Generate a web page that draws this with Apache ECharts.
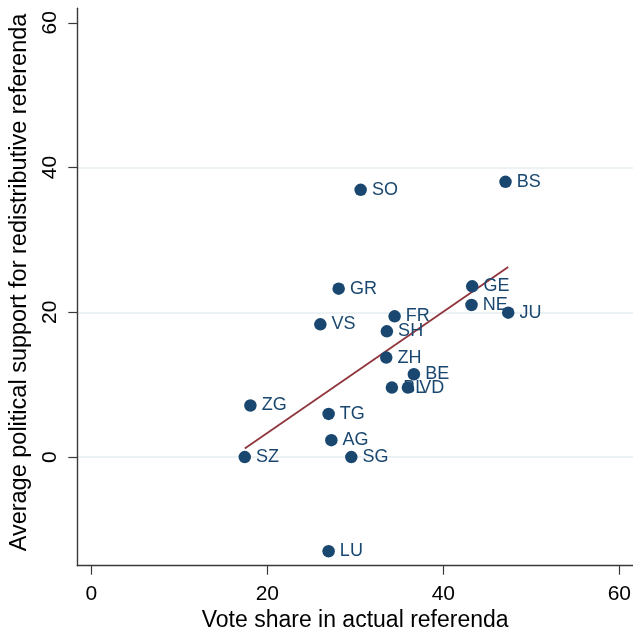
<!DOCTYPE html>
<html>
<head>
<meta charset="utf-8">
<script src="https://cdn.jsdelivr.net/npm/echarts@6/dist/echarts.min.js"></script>
<style>
html,body{margin:0;padding:0;background:#fff;}
#chart{width:633px;height:631px;}
</style>
</head>
<body>
<div id="chart"></div>
<script>
// Cantons (labels)
var cantons = ['BS','SO','GE','GR','NE','JU','FR','VS','SH','ZH','BE','BL','VD','ZG','TG','AG','SZ','SG','LU'];
// Vote share in actual referenda (x)
var voteShare = [47.06,30.60,43.28,28.10,43.20,47.37,34.46,26.02,33.58,33.51,36.65,34.15,35.97,18.07,26.96,27.27,17.43,29.54,26.96];
// Average political support for redistributive referenda (y)
var support = [38.03,36.92,23.59,23.27,21.01,19.96,19.45,18.34,17.38,13.75,11.45,9.61,9.61,7.13,5.97,2.34,0.00,0.00,-13.0];
// Fitted line end points
var fitX = [17.43, 47.37];
var fitY = [1.2, 26.25];
// Tick labels
var xTicks = [0,20,40,60];
var yTicks = [0,20,40,60];
var yGrid = [0,20,40];

var FONT = '"Liberation Sans", Arial, Helvetica, sans-serif';
var NAVY = '#1a476f';

var scatterData = cantons.map(function(c,i){ return {name:c, value:[voteShare[i], support[i]]}; });
var fitData = fitX.map(function(x,i){ return [x, fitY[i]]; });

var chart = echarts.init(document.getElementById('chart'), null, {renderer:'canvas'});
chart.setOption({
  backgroundColor:'#ffffff',
  animation:false,
  grid:{left:77.3, right:0, top:8.3, bottom:65.3, containLabel:false, outerBoundsMode:'none'},
  xAxis:{
    type:'value', min:-1.6, max:61.55,
    name:'Vote share in actual referenda', nameLocation:'middle', nameGap:43,
    nameTextStyle:{fontFamily:FONT, fontSize:23, color:'#000'},
    axisLine:{show:true, onZero:false, lineStyle:{color:'#3a3a3a', width:1.4}},
    axisTick:{show:true, length:9, customValues:xTicks, lineStyle:{color:'#3a3a3a', width:1.2}},
    axisLabel:{customValues:xTicks, margin:18, fontFamily:FONT, fontSize:21, color:'#000'},
    splitLine:{show:false}
  },
  yAxis:{
    type:'value', min:-15, max:62,
    name:'Average political support for redistributive referenda', nameLocation:'middle', nameGap:36,
    nameTextStyle:{fontFamily:FONT, fontSize:23.5, color:'#000', padding:[0,0,0,9]},
    axisLine:{show:true, onZero:false, lineStyle:{color:'#3a3a3a', width:1.4}},
    axisTick:{show:true, length:9, customValues:yTicks, lineStyle:{color:'#3a3a3a', width:1.2}},
    axisLabel:{customValues:yTicks, rotate:90, margin:17, fontFamily:FONT, fontSize:21, color:'#000'},
    splitLine:{show:false}
  },
  series:[
    {
      type:'line', data:[], z:1, silent:true,
      markLine:{
        z:0, silent:true, symbol:['none','none'],
        label:{show:false},
        lineStyle:{color:'#e6edf0', width:1.5, type:'solid'},
        data: yGrid.map(function(v){ return {yAxis:v}; })
      }
    },
    {
      type:'line', data:fitData, z:2, symbol:'none', silent:true,
      lineStyle:{color:'#90353b', width:1.8}
    },
    {
      type:'scatter', data:scatterData, z:3,
      symbol:'circle', symbolSize:12.5,
      itemStyle:{color:NAVY, opacity:1},
      label:{show:true, position:'right', distance:5, formatter:'{b}',
             fontFamily:FONT, fontSize:18, color:NAVY}
    }
  ]
});
</script>
</body>
</html>
